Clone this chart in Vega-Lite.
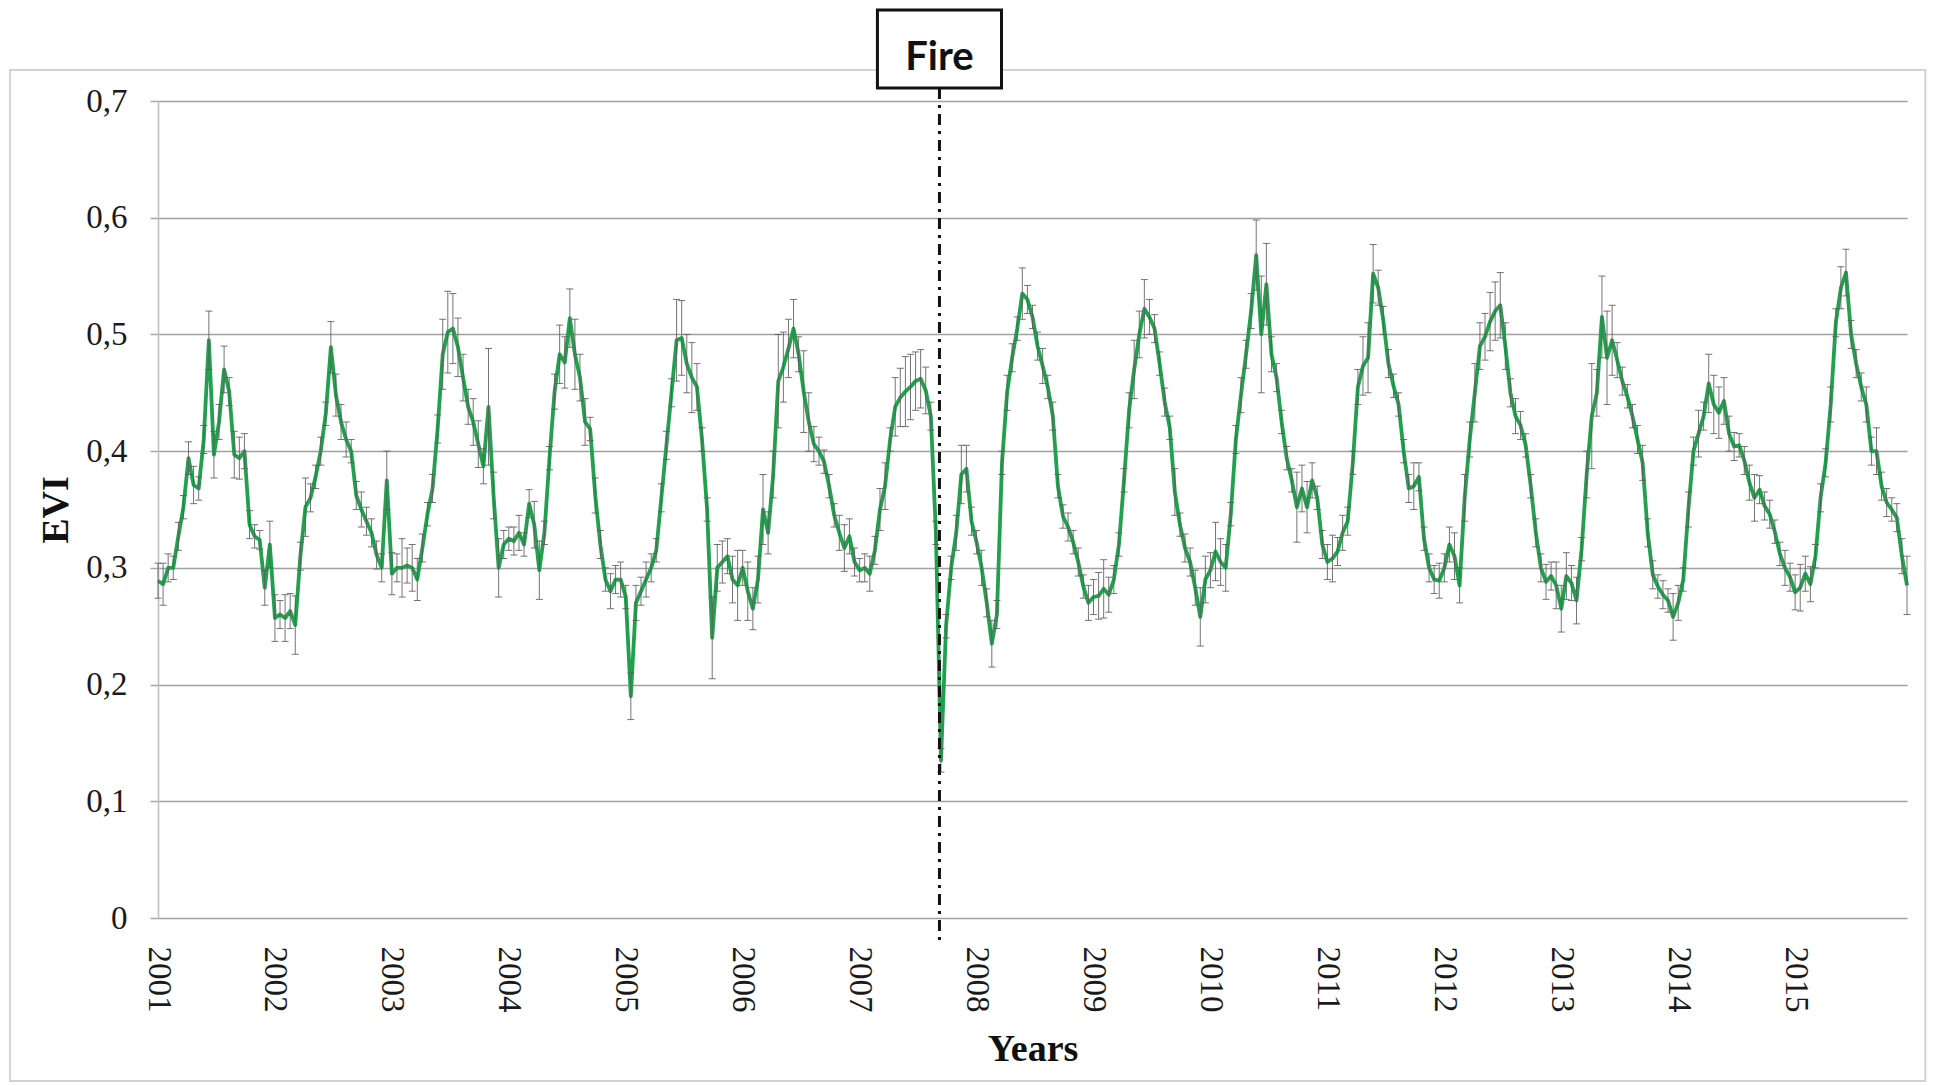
{
  "$schema": "https://vega.github.io/schema/vega-lite/v6.json",
  "width": 1749,
  "height": 817,
  "autosize": "none",
  "padding": {"left": 158, "top": 101, "right": 28, "bottom": 168},
  "background": "white",
  "config": {"view": {"stroke": null}, "font": "Liberation Serif"},
  "datasets": {
    "events": [{"event": "Fire", "composite": 153.7}],
    "evi_series": [
      {"composite":0,"evi":0.289,"sd":0.015},{"composite":1,"evi":0.286,"sd":0.018},{"composite":2,"evi":0.300,"sd":0.012},{"composite":3,"evi":0.300,"sd":0.010},{"composite":4,"evi":0.327,"sd":0.012},{"composite":5,"evi":0.352,"sd":0.010},{"composite":6,"evi":0.394,"sd":0.014},{"composite":7,"evi":0.371,"sd":0.016},{"composite":8,"evi":0.368,"sd":0.010},{"composite":9,"evi":0.410,"sd":0.012},{"composite":10,"evi":0.495,"sd":0.025},{"composite":11,"evi":0.397,"sd":0.020},{"composite":12,"evi":0.425,"sd":0.015},{"composite":13,"evi":0.470,"sd":0.020},{"composite":14,"evi":0.451,"sd":0.012},{"composite":15,"evi":0.397,"sd":0.020},{"composite":16,"evi":0.394,"sd":0.018},{"composite":17,"evi":0.400,"sd":0.015},{"composite":18,"evi":0.337,"sd":0.012},{"composite":19,"evi":0.327,"sd":0.010},{"composite":20,"evi":0.324,"sd":0.008},{"composite":21,"evi":0.283,"sd":0.015},{"composite":22,"evi":0.320,"sd":0.020},
      {"composite":23,"evi":0.257,"sd":0.020},{"composite":24,"evi":0.260,"sd":0.012},{"composite":25,"evi":0.257,"sd":0.020},{"composite":26,"evi":0.263,"sd":0.015},{"composite":27,"evi":0.251,"sd":0.025},{"composite":28,"evi":0.310,"sd":0.012},{"composite":29,"evi":0.352,"sd":0.025},{"composite":30,"evi":0.360,"sd":0.012},{"composite":31,"evi":0.378,"sd":0.010},{"composite":32,"evi":0.400,"sd":0.012},{"composite":33,"evi":0.432,"sd":0.010},{"composite":34,"evi":0.489,"sd":0.022},{"composite":35,"evi":0.448,"sd":0.018},{"composite":36,"evi":0.425,"sd":0.015},{"composite":37,"evi":0.410,"sd":0.015},{"composite":38,"evi":0.400,"sd":0.010},{"composite":39,"evi":0.362,"sd":0.012},{"composite":40,"evi":0.350,"sd":0.015},{"composite":41,"evi":0.340,"sd":0.012},{"composite":42,"evi":0.330,"sd":0.012},{"composite":43,"evi":0.311,"sd":0.012},{"composite":44,"evi":0.300,"sd":0.012},{"composite":45,"evi":0.375,"sd":0.025},
      {"composite":46,"evi":0.295,"sd":0.018},{"composite":47,"evi":0.300,"sd":0.012},{"composite":48,"evi":0.300,"sd":0.025},{"composite":49,"evi":0.302,"sd":0.015},{"composite":50,"evi":0.300,"sd":0.020},{"composite":51,"evi":0.290,"sd":0.018},{"composite":52,"evi":0.317,"sd":0.012},{"composite":53,"evi":0.346,"sd":0.010},{"composite":54,"evi":0.368,"sd":0.012},{"composite":55,"evi":0.419,"sd":0.012},{"composite":56,"evi":0.483,"sd":0.030},{"composite":57,"evi":0.502,"sd":0.035},{"composite":58,"evi":0.505,"sd":0.030},{"composite":59,"evi":0.489,"sd":0.025},{"composite":60,"evi":0.463,"sd":0.020},{"composite":61,"evi":0.438,"sd":0.015},{"composite":62,"evi":0.425,"sd":0.020},{"composite":63,"evi":0.406,"sd":0.020},{"composite":64,"evi":0.387,"sd":0.015},{"composite":65,"evi":0.438,"sd":0.050},{"composite":66,"evi":0.362,"sd":0.020},{"composite":67,"evi":0.300,"sd":0.025},{"composite":68,"evi":0.320,"sd":0.012},
      {"composite":69,"evi":0.325,"sd":0.010},{"composite":70,"evi":0.323,"sd":0.012},{"composite":71,"evi":0.330,"sd":0.015},{"composite":72,"evi":0.320,"sd":0.010},{"composite":73,"evi":0.355,"sd":0.012},{"composite":74,"evi":0.337,"sd":0.020},{"composite":75,"evi":0.298,"sd":0.025},{"composite":76,"evi":0.330,"sd":0.010},{"composite":77,"evi":0.394,"sd":0.010},{"composite":78,"evi":0.451,"sd":0.015},{"composite":79,"evi":0.483,"sd":0.025},{"composite":80,"evi":0.476,"sd":0.022},{"composite":81,"evi":0.514,"sd":0.025},{"composite":82,"evi":0.483,"sd":0.030},{"composite":83,"evi":0.463,"sd":0.020},{"composite":84,"evi":0.425,"sd":0.020},{"composite":85,"evi":0.419,"sd":0.010},{"composite":86,"evi":0.362,"sd":0.015},{"composite":87,"evi":0.320,"sd":0.012},{"composite":88,"evi":0.290,"sd":0.010},{"composite":89,"evi":0.280,"sd":0.015},{"composite":90,"evi":0.290,"sd":0.012},{"composite":91,"evi":0.290,"sd":0.015},
      {"composite":92,"evi":0.275,"sd":0.010},{"composite":93,"evi":0.190,"sd":0.020},{"composite":94,"evi":0.270,"sd":0.015},{"composite":95,"evi":0.280,"sd":0.012},{"composite":96,"evi":0.290,"sd":0.015},{"composite":97,"evi":0.300,"sd":0.012},{"composite":98,"evi":0.315,"sd":0.010},{"composite":99,"evi":0.360,"sd":0.012},{"composite":100,"evi":0.405,"sd":0.012},{"composite":101,"evi":0.450,"sd":0.012},{"composite":102,"evi":0.495,"sd":0.035},{"composite":103,"evi":0.497,"sd":0.032},{"composite":104,"evi":0.475,"sd":0.025},{"composite":105,"evi":0.463,"sd":0.030},{"composite":106,"evi":0.455,"sd":0.020},{"composite":107,"evi":0.410,"sd":0.010},{"composite":108,"evi":0.350,"sd":0.010},{"composite":109,"evi":0.240,"sd":0.035},{"composite":110,"evi":0.300,"sd":0.020},{"composite":111,"evi":0.305,"sd":0.018},{"composite":112,"evi":0.310,"sd":0.015},{"composite":113,"evi":0.290,"sd":0.020},{"composite":114,"evi":0.285,"sd":0.030},
      {"composite":115,"evi":0.300,"sd":0.015},{"composite":116,"evi":0.280,"sd":0.025},{"composite":117,"evi":0.265,"sd":0.018},{"composite":118,"evi":0.290,"sd":0.020},{"composite":119,"evi":0.350,"sd":0.030},{"composite":120,"evi":0.330,"sd":0.018},{"composite":121,"evi":0.380,"sd":0.020},{"composite":122,"evi":0.460,"sd":0.040},{"composite":123,"evi":0.472,"sd":0.030},{"composite":124,"evi":0.488,"sd":0.025},{"composite":125,"evi":0.505,"sd":0.025},{"composite":126,"evi":0.483,"sd":0.015},{"composite":127,"evi":0.451,"sd":0.035},{"composite":128,"evi":0.425,"sd":0.025},{"composite":129,"evi":0.406,"sd":0.015},{"composite":130,"evi":0.400,"sd":0.012},{"composite":131,"evi":0.391,"sd":0.010},{"composite":132,"evi":0.370,"sd":0.010},{"composite":133,"evi":0.345,"sd":0.010},{"composite":134,"evi":0.330,"sd":0.015},{"composite":135,"evi":0.317,"sd":0.020},{"composite":136,"evi":0.327,"sd":0.015},{"composite":137,"evi":0.305,"sd":0.012},
      {"composite":138,"evi":0.298,"sd":0.010},{"composite":139,"evi":0.300,"sd":0.012},{"composite":140,"evi":0.295,"sd":0.015},{"composite":141,"evi":0.315,"sd":0.012},{"composite":142,"evi":0.350,"sd":0.018},{"composite":143,"evi":0.370,"sd":0.020},{"composite":144,"evi":0.410,"sd":0.010},{"composite":145,"evi":0.438,"sd":0.025},{"composite":146,"evi":0.446,"sd":0.025},{"composite":147,"evi":0.451,"sd":0.030},{"composite":148,"evi":0.455,"sd":0.028},{"composite":149,"evi":0.460,"sd":0.025},{"composite":150,"evi":0.462,"sd":0.025},{"composite":151,"evi":0.452,"sd":0.020},{"composite":152,"evi":0.430,"sd":0.012},{"composite":153,"evi":0.330,"sd":0.010},{"composite":154,"evi":0.135,"sd":0.010},{"composite":155,"evi":0.250,"sd":0.010},{"composite":156,"evi":0.300,"sd":0.010},{"composite":157,"evi":0.330,"sd":0.015},{"composite":158,"evi":0.380,"sd":0.025},{"composite":159,"evi":0.385,"sd":0.020},{"composite":160,"evi":0.340,"sd":0.012},
      {"composite":161,"evi":0.322,"sd":0.010},{"composite":162,"evi":0.300,"sd":0.015},{"composite":163,"evi":0.270,"sd":0.012},{"composite":164,"evi":0.235,"sd":0.020},{"composite":165,"evi":0.260,"sd":0.012},{"composite":166,"evi":0.390,"sd":0.010},{"composite":167,"evi":0.450,"sd":0.015},{"composite":168,"evi":0.480,"sd":0.012},{"composite":169,"evi":0.505,"sd":0.010},{"composite":170,"evi":0.535,"sd":0.022},{"composite":171,"evi":0.530,"sd":0.012},{"composite":172,"evi":0.515,"sd":0.010},{"composite":173,"evi":0.490,"sd":0.012},{"composite":174,"evi":0.473,"sd":0.015},{"composite":175,"evi":0.455,"sd":0.010},{"composite":176,"evi":0.430,"sd":0.012},{"composite":177,"evi":0.370,"sd":0.010},{"composite":178,"evi":0.344,"sd":0.010},{"composite":179,"evi":0.335,"sd":0.012},{"composite":180,"evi":0.322,"sd":0.010},{"composite":181,"evi":0.305,"sd":0.012},{"composite":182,"evi":0.284,"sd":0.010},{"composite":183,"evi":0.270,"sd":0.015},
      {"composite":184,"evi":0.275,"sd":0.015},{"composite":185,"evi":0.276,"sd":0.020},{"composite":186,"evi":0.282,"sd":0.025},{"composite":187,"evi":0.277,"sd":0.015},{"composite":188,"evi":0.290,"sd":0.012},{"composite":189,"evi":0.320,"sd":0.010},{"composite":190,"evi":0.375,"sd":0.010},{"composite":191,"evi":0.435,"sd":0.015},{"composite":192,"evi":0.470,"sd":0.025},{"composite":193,"evi":0.500,"sd":0.020},{"composite":194,"evi":0.522,"sd":0.025},{"composite":195,"evi":0.515,"sd":0.015},{"composite":196,"evi":0.505,"sd":0.012},{"composite":197,"evi":0.475,"sd":0.010},{"composite":198,"evi":0.442,"sd":0.012},{"composite":199,"evi":0.420,"sd":0.010},{"composite":200,"evi":0.365,"sd":0.020},{"composite":201,"evi":0.337,"sd":0.010},{"composite":202,"evi":0.317,"sd":0.012},{"composite":203,"evi":0.305,"sd":0.012},{"composite":204,"evi":0.283,"sd":0.015},{"composite":205,"evi":0.258,"sd":0.025},{"composite":206,"evi":0.290,"sd":0.020},
      {"composite":207,"evi":0.298,"sd":0.015},{"composite":208,"evi":0.314,"sd":0.025},{"composite":209,"evi":0.305,"sd":0.020},{"composite":210,"evi":0.300,"sd":0.020},{"composite":211,"evi":0.346,"sd":0.010},{"composite":212,"evi":0.410,"sd":0.012},{"composite":213,"evi":0.448,"sd":0.015},{"composite":214,"evi":0.483,"sd":0.012},{"composite":215,"evi":0.520,"sd":0.015},{"composite":216,"evi":0.568,"sd":0.030},{"composite":217,"evi":0.500,"sd":0.050},{"composite":218,"evi":0.543,"sd":0.035},{"composite":219,"evi":0.483,"sd":0.015},{"composite":220,"evi":0.463,"sd":0.012},{"composite":221,"evi":0.425,"sd":0.010},{"composite":222,"evi":0.394,"sd":0.010},{"composite":223,"evi":0.375,"sd":0.010},{"composite":224,"evi":0.352,"sd":0.030},{"composite":225,"evi":0.368,"sd":0.020},{"composite":226,"evi":0.352,"sd":0.022},{"composite":227,"evi":0.375,"sd":0.015},{"composite":228,"evi":0.360,"sd":0.010},{"composite":229,"evi":0.320,"sd":0.012},
      {"composite":230,"evi":0.305,"sd":0.015},{"composite":231,"evi":0.308,"sd":0.020},{"composite":232,"evi":0.314,"sd":0.012},{"composite":233,"evi":0.330,"sd":0.015},{"composite":234,"evi":0.340,"sd":0.012},{"composite":235,"evi":0.390,"sd":0.010},{"composite":236,"evi":0.455,"sd":0.015},{"composite":237,"evi":0.473,"sd":0.025},{"composite":238,"evi":0.480,"sd":0.030},{"composite":239,"evi":0.552,"sd":0.025},{"composite":240,"evi":0.540,"sd":0.015},{"composite":241,"evi":0.512,"sd":0.012},{"composite":242,"evi":0.475,"sd":0.012},{"composite":243,"evi":0.456,"sd":0.010},{"composite":244,"evi":0.440,"sd":0.010},{"composite":245,"evi":0.400,"sd":0.010},{"composite":246,"evi":0.368,"sd":0.012},{"composite":247,"evi":0.370,"sd":0.020},{"composite":248,"evi":0.378,"sd":0.012},{"composite":249,"evi":0.325,"sd":0.010},{"composite":250,"evi":0.300,"sd":0.012},{"composite":251,"evi":0.290,"sd":0.012},{"composite":252,"evi":0.289,"sd":0.015},
      {"composite":253,"evi":0.300,"sd":0.012},{"composite":254,"evi":0.320,"sd":0.015},{"composite":255,"evi":0.310,"sd":0.020},{"composite":256,"evi":0.285,"sd":0.015},{"composite":257,"evi":0.360,"sd":0.020},{"composite":258,"evi":0.410,"sd":0.015},{"composite":259,"evi":0.450,"sd":0.025},{"composite":260,"evi":0.490,"sd":0.020},{"composite":261,"evi":0.498,"sd":0.020},{"composite":262,"evi":0.511,"sd":0.025},{"composite":263,"evi":0.520,"sd":0.025},{"composite":264,"evi":0.525,"sd":0.028},{"composite":265,"evi":0.490,"sd":0.020},{"composite":266,"evi":0.450,"sd":0.012},{"composite":267,"evi":0.430,"sd":0.015},{"composite":268,"evi":0.422,"sd":0.012},{"composite":269,"evi":0.405,"sd":0.010},{"composite":270,"evi":0.370,"sd":0.010},{"composite":271,"evi":0.330,"sd":0.012},{"composite":272,"evi":0.300,"sd":0.012},{"composite":273,"evi":0.288,"sd":0.015},{"composite":274,"evi":0.293,"sd":0.012},{"composite":275,"evi":0.285,"sd":0.020},
      {"composite":276,"evi":0.265,"sd":0.020},{"composite":277,"evi":0.293,"sd":0.020},{"composite":278,"evi":0.287,"sd":0.015},{"composite":279,"evi":0.272,"sd":0.020},{"composite":280,"evi":0.316,"sd":0.010},{"composite":281,"evi":0.380,"sd":0.020},{"composite":282,"evi":0.430,"sd":0.045},{"composite":283,"evi":0.450,"sd":0.020},{"composite":284,"evi":0.515,"sd":0.035},{"composite":285,"evi":0.480,"sd":0.040},{"composite":286,"evi":0.495,"sd":0.030},{"composite":287,"evi":0.478,"sd":0.015},{"composite":288,"evi":0.460,"sd":0.012},{"composite":289,"evi":0.447,"sd":0.010},{"composite":290,"evi":0.430,"sd":0.010},{"composite":291,"evi":0.410,"sd":0.012},{"composite":292,"evi":0.390,"sd":0.015},{"composite":293,"evi":0.330,"sd":0.012},{"composite":294,"evi":0.294,"sd":0.012},{"composite":295,"evi":0.284,"sd":0.010},{"composite":296,"evi":0.277,"sd":0.012},{"composite":297,"evi":0.272,"sd":0.010},{"composite":298,"evi":0.258,"sd":0.020},
      {"composite":299,"evi":0.270,"sd":0.015},{"composite":300,"evi":0.290,"sd":0.010},{"composite":301,"evi":0.350,"sd":0.015},{"composite":302,"evi":0.400,"sd":0.012},{"composite":303,"evi":0.415,"sd":0.020},{"composite":304,"evi":0.430,"sd":0.012},{"composite":305,"evi":0.458,"sd":0.025},{"composite":306,"evi":0.440,"sd":0.025},{"composite":307,"evi":0.433,"sd":0.022},{"composite":308,"evi":0.443,"sd":0.020},{"composite":309,"evi":0.415,"sd":0.015},{"composite":310,"evi":0.404,"sd":0.012},{"composite":311,"evi":0.405,"sd":0.010},{"composite":312,"evi":0.392,"sd":0.012},{"composite":313,"evi":0.373,"sd":0.015},{"composite":314,"evi":0.360,"sd":0.020},{"composite":315,"evi":0.367,"sd":0.012},{"composite":316,"evi":0.353,"sd":0.012},{"composite":317,"evi":0.346,"sd":0.012},{"composite":318,"evi":0.331,"sd":0.010},{"composite":319,"evi":0.312,"sd":0.010},{"composite":320,"evi":0.300,"sd":0.015},{"composite":321,"evi":0.292,"sd":0.012},
      {"composite":322,"evi":0.279,"sd":0.015},{"composite":323,"evi":0.283,"sd":0.020},{"composite":324,"evi":0.295,"sd":0.015},{"composite":325,"evi":0.286,"sd":0.015},{"composite":326,"evi":0.310,"sd":0.010},{"composite":327,"evi":0.360,"sd":0.012},{"composite":328,"evi":0.390,"sd":0.012},{"composite":329,"evi":0.440,"sd":0.015},{"composite":330,"evi":0.510,"sd":0.012},{"composite":331,"evi":0.540,"sd":0.018},{"composite":332,"evi":0.553,"sd":0.020},{"composite":333,"evi":0.500,"sd":0.012},{"composite":334,"evi":0.475,"sd":0.012},{"composite":335,"evi":0.455,"sd":0.012},{"composite":336,"evi":0.440,"sd":0.015},{"composite":337,"evi":0.400,"sd":0.012},{"composite":338,"evi":0.400,"sd":0.020},{"composite":339,"evi":0.370,"sd":0.012},{"composite":340,"evi":0.356,"sd":0.012},{"composite":341,"evi":0.350,"sd":0.010},{"composite":342,"evi":0.343,"sd":0.012},{"composite":343,"evi":0.310,"sd":0.015},{"composite":344,"evi":0.285,"sd":0.025}
    ]
  },
  "layer": [
    {
      "data": {"name": "evi_series"},
      "mark": {"type": "line", "color": "#22a04e", "strokeWidth": 3.8, "strokeJoin": "round"},
      "encoding": {
        "x": {
          "field": "composite",
          "type": "quantitative",
          "title": "Years",
          "scale": {"domain": [0, 344], "nice": false, "zero": false},
          "axis": {
            "values": [0, 23, 46, 69, 92, 115, 138, 161, 184, 207, 230, 253, 276, 299, 322],
            "labelExpr": "format(2001 + datum.value / 23, 'd')",
            "labelAngle": 90,
            "labelAlign": "left",
            "labelBaseline": "middle",
            "labelFont": "Liberation Serif",
            "labelFontSize": 33,
            "labelColor": "#1a1a1a",
            "labelPadding": 28,
            "labelFlush": false,
            "labelOverlap": false,
            "labelBound": false,
            "ticks": false,
            "domain": false,
            "grid": false,
            "titleFont": "Liberation Serif",
            "titleFontWeight": "bold",
            "titleFontSize": 38,
            "titleColor": "#111111",
            "titleX": 874.5,
            "titleY": 131,
            "titleAlign": "center",
            "titleBaseline": "middle"
          }
        },
        "y": {
          "field": "evi",
          "type": "quantitative",
          "title": "EVI",
          "scale": {"domain": [0, 0.7], "nice": false, "zero": true},
          "axis": {
            "values": [0, 0.1, 0.2, 0.3, 0.4, 0.5, 0.6, 0.7],
            "labelExpr": "datum.value == 0 ? '0' : replace(format(datum.value, '.1f'), '.', ',')",
            "labelFont": "Liberation Serif",
            "labelFontSize": 33,
            "labelColor": "#1a1a1a",
            "labelPadding": 23,
            "labelBound": false,
            "labelOverlap": false,
            "tickSize": 8,
            "tickColor": "#a6a6a6",
            "tickWidth": 1.5,
            "domainColor": "#bdbdbd",
            "domainWidth": 1.5,
            "grid": true,
            "gridColor": "#a0a0a0",
            "gridWidth": 1.5,
            "titleFont": "Liberation Serif",
            "titleFontWeight": "bold",
            "titleFontSize": 38,
            "titleColor": "#111111",
            "titleAngle": -90,
            "titleX": -102,
            "titleY": 408.5,
            "titleAlign": "center",
            "titleBaseline": "middle"
          }
        }
      }
    },
    {
      "data": {"name": "evi_series"},
      "mark": {
        "type": "errorbar",
        "ticks": {"size": 7, "color": "#5c5c5c", "strokeWidth": 1, "opacity": 0.85},
        "rule": {"color": "#5c5c5c", "strokeWidth": 1, "opacity": 0.85}
      },
      "encoding": {
        "x": {"field": "composite", "type": "quantitative", "title": "Years"},
        "y": {"field": "evi", "type": "quantitative", "title": "EVI"},
        "yError": {"field": "sd"}
      }
    },
    {
      "data": {"name": "events"},
      "mark": {"type": "rect", "fill": null, "stroke": "#d3d3d3", "strokeWidth": 2},
      "encoding": {
        "x": {"datum": -29.1, "type": "quantitative", "title": "Years"},
        "x2": {"datum": 347.6},
        "y": {"datum": 0.7266, "type": "quantitative", "title": "EVI"},
        "y2": {"datum": -0.1397}
      }
    },
    {
      "data": {"name": "events"},
      "mark": {"type": "rule", "color": "#111111", "strokeWidth": 3, "strokeDash": [11, 6, 3, 6]},
      "encoding": {
        "x": {"field": "composite", "type": "quantitative", "title": "Years"},
        "y": {"datum": 0.7111, "type": "quantitative", "title": "EVI"},
        "y2": {"datum": -0.0189}
      }
    },
    {
      "data": {"name": "events"},
      "mark": {"type": "rect", "fill": "white", "stroke": "#111111", "strokeWidth": 3},
      "encoding": {
        "x": {"datum": 141.5, "type": "quantitative", "title": "Years"},
        "x2": {"datum": 165.9},
        "y": {"datum": 0.778, "type": "quantitative", "title": "EVI"},
        "y2": {"datum": 0.7111}
      }
    },
    {
      "data": {"name": "events"},
      "mark": {"type": "text", "font": "Lato", "fontWeight": "bold", "fontSize": 40, "color": "#111111", "align": "center", "baseline": "alphabetic"},
      "encoding": {
        "x": {"field": "composite", "type": "quantitative", "title": "Years"},
        "y": {"datum": 0.7266, "type": "quantitative", "title": "EVI"},
        "text": {"field": "event"}
      }
    }
  ]
}
